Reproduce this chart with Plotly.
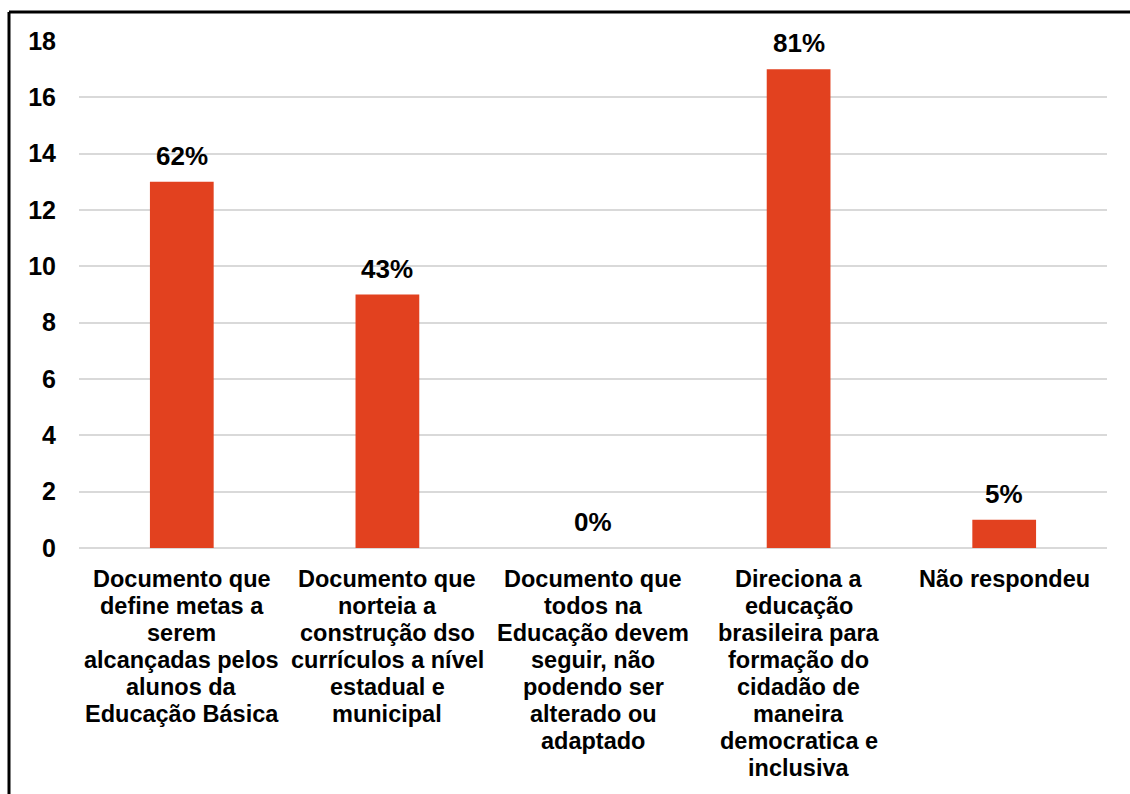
import plotly.graph_objects as go

# Survey answers: number of respondents per option, with their share
categories = [
    "Documento que<br>define metas a<br>serem<br>alcançadas pelos<br>alunos da<br>Educação Básica",
    "Documento que<br>norteia a<br>construção dso<br>currículos a nível<br>estadual e<br>municipal",
    "Documento que<br>todos na<br>Educação devem<br>seguir, não<br>podendo ser<br>alterado ou<br>adaptado",
    "Direciona a<br>educação<br>brasileira para<br>formação do<br>cidadão de<br>maneira<br>democratica e<br>inclusiva",
    "Não respondeu",
]
counts = [13, 9, 0, 17, 1]
shares = ["62%", "43%", "0%", "81%", "5%"]
y_ticks = [0, 2, 4, 6, 8, 10, 12, 14, 16, 18]

FONT = "Liberation Sans, Arial, sans-serif"
BAR_COLOR = "#E2411F"

W, H = 1130, 794
L, R, T, B = 79, 23, 41, 246

fig = go.Figure()
fig.add_trace(go.Bar(
    x=list(range(len(categories))),
    y=counts,
    marker=dict(color=BAR_COLOR, line=dict(width=0)),
    width=0.31,
    hoverinfo="skip",
))

# value labels above each bar
for i, (v, s) in enumerate(zip(counts, shares)):
    fig.add_annotation(
        x=i, y=v, text=f"<b>{s}</b>", showarrow=False,
        yanchor="bottom", yshift=9,
        font=dict(family=FONT, size=26, color="#000000"),
    )

# category labels under the axis, one line at a time for tighter leading
LINE_GAP = 27.1
FIRST_LINE = 30.5
for i, cat in enumerate(categories):
    for j, line in enumerate(cat.split("<br>")):
        fig.add_annotation(
            x=i, y=0, text=f"<b>{line}</b>", showarrow=False,
            xanchor="center", yanchor="middle",
            yshift=-(FIRST_LINE + LINE_GAP * j),
            font=dict(family=FONT, size=23.5, color="#000000"),
        )

# outer frame (left and top edges)
pw, ph = W - L - R, H - T - B
fx = (9 - L) / pw
fy = (H - B - 12) / ph
fig.add_shape(type="line", xref="paper", yref="paper",
              x0=fx, x1=fx, y0=-1, y1=fy, line=dict(color="#000", width=3))
fig.add_shape(type="line", xref="paper", yref="paper",
              x0=fx, x1=1.2, y0=fy, y1=fy, line=dict(color="#000", width=3))

fig.update_layout(
    width=W, height=H,
    margin=dict(l=L, r=R, t=T, b=B, pad=0),
    paper_bgcolor="#ffffff",
    plot_bgcolor="#ffffff",
    showlegend=False,
    font=dict(family=FONT, color="#000000"),
    xaxis=dict(
        range=[-0.5, 4.5],
        tickmode="array",
        tickvals=list(range(len(categories))),
        showticklabels=False,
        showgrid=False, zeroline=False, showline=False,
        ticks="", automargin=False,
        fixedrange=True,
    ),
    yaxis=dict(
        range=[0, 18],
        tickmode="array",
        tickvals=y_ticks,
        ticktext=[f"<b>{t}</b>" for t in y_ticks],
        tickfont=dict(family=FONT, size=25, color="#000000"),
        showgrid=True, gridcolor="#d9d9d9", gridwidth=2,
        zeroline=True, zerolinecolor="#d9d9d9", zerolinewidth=2,
        showline=False, ticks="", ticklabelstandoff=22,
        automargin=False,
        fixedrange=True,
    ),
)

fig.write_html("out.html")
